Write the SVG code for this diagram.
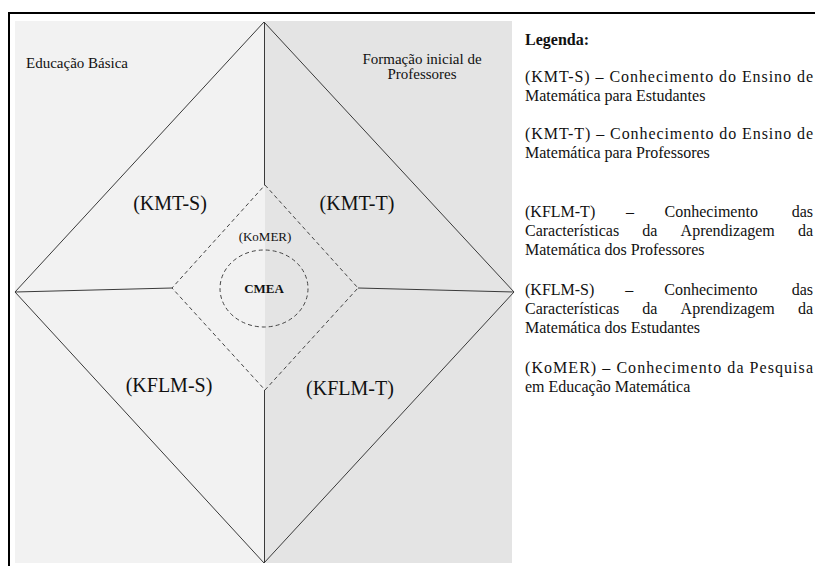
<svg xmlns="http://www.w3.org/2000/svg" width="815" height="566" viewBox="0 0 815 566">
<style>
  text { font-family: "Liberation Serif", "Times New Roman", serif; fill: #111; }
  .small { font-size: 15px; }
  .big { font-size: 20px; }
  .mid { font-size: 13px; }
  .leg { font-size: 16px; }
  .bold { font-weight: bold; }
  .line { stroke: #3a3a3a; stroke-width: 1; fill: none; }
  .dash { stroke: #444; stroke-width: 1; fill: none; stroke-dasharray: 4 3; }
</style>
<rect x="0" y="0" width="815" height="566" fill="#ffffff"/>
<g id="frame">
  <line x1="8" y1="13" x2="815" y2="13" stroke="#000" stroke-width="2"/>
  <line x1="9" y1="12" x2="9" y2="566" stroke="#000" stroke-width="2"/>
</g>
<g id="panel">
  <rect x="15" y="21" width="250" height="542" fill="#f2f2f2"/>
  <rect x="265" y="21" width="247" height="542" fill="#e4e4e4"/>
  <text class="small" x="26" y="68">Educação Básica</text>
  <text class="small" x="422" y="64" text-anchor="middle">Formação inicial de</text>
  <text class="small" x="422" y="79" text-anchor="middle">Professores</text>
</g>
<g id="connectors">
  <polygon class="line" points="264,22 514,292 264,563 15,292"/>
  <line class="line" x1="264.5" y1="22" x2="264.5" y2="185"/>
  <line class="line" x1="264.5" y1="390" x2="264.5" y2="563"/>
  <line class="line" x1="15" y1="292" x2="172" y2="288"/>
  <line class="line" x1="358" y1="288" x2="514" y2="292"/>
</g>
<g id="kmt-s"><text class="big" x="170" y="210" text-anchor="middle">(KMT-S)</text></g>
<g id="kmt-t"><text class="big" x="357" y="210" text-anchor="middle">(KMT-T)</text></g>
<g id="kflm-s"><text class="big" x="169" y="392" text-anchor="middle">(KFLM-S)</text></g>
<g id="kflm-t"><text class="big" x="350" y="395" text-anchor="middle">(KFLM-T)</text></g>
<g id="komer">
  <polygon class="dash" points="265,185 358,288 265,390 172,288"/>
  <text class="mid" x="265" y="241" text-anchor="middle">(KoMER)</text>
</g>
<g id="cmea">
  <ellipse class="dash" cx="264" cy="288.5" rx="44" ry="38.5"/>
  <text class="mid bold" x="264" y="293" text-anchor="middle">CMEA</text>
</g>
<g id="legend">
  <text class="leg bold" x="525" y="45">Legenda:</text>
  <text class="leg" x="525" y="82" textLength="288" lengthAdjust="spacing">(KMT-S) – Conhecimento do Ensino de</text>
  <text class="leg" x="525" y="101">Matemática para Estudantes</text>
  <text class="leg" x="525" y="139" textLength="288" lengthAdjust="spacing">(KMT-T) – Conhecimento do Ensino de</text>
  <text class="leg" x="525" y="158">Matemática para Professores</text>
  <text class="leg" y="217"><tspan x="525">(KFLM-T)</tspan><tspan x="625.9">–</tspan><tspan x="664.6">Conhecimento</tspan><tspan x="813" text-anchor="end">das</tspan></text>
  <text class="leg" y="236"><tspan x="525">Características</tspan><tspan x="642.3">da</tspan><tspan x="680.6">Aprendizagem</tspan><tspan x="813" text-anchor="end">da</tspan></text>
  <text class="leg" x="525" y="255">Matemática dos Professores</text>
  <text class="leg" y="295"><tspan x="525">(KFLM-S)</tspan><tspan x="625.3">–</tspan><tspan x="664.3">Conhecimento</tspan><tspan x="813" text-anchor="end">das</tspan></text>
  <text class="leg" y="314"><tspan x="525">Características</tspan><tspan x="642.3">da</tspan><tspan x="680.6">Aprendizagem</tspan><tspan x="813" text-anchor="end">da</tspan></text>
  <text class="leg" x="525" y="333">Matemática dos Estudantes</text>
  <text class="leg" x="525" y="373" textLength="288" lengthAdjust="spacing">(KoMER) – Conhecimento da Pesquisa</text>
  <text class="leg" x="525" y="392">em Educação Matemática</text>
</g>
</svg>
